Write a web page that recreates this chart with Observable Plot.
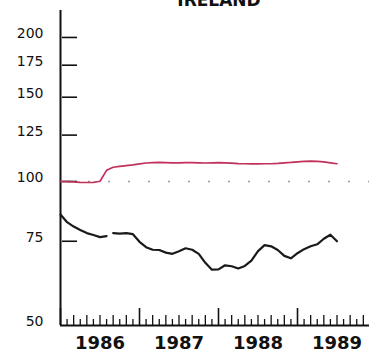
<!DOCTYPE html>
<html>
<head>
<meta charset="utf-8">
<script src="https://cdn.jsdelivr.net/npm/d3@7"></script>
<script src="https://cdn.jsdelivr.net/npm/@observablehq/plot@0.6"></script>
<style>
  html, body { margin: 0; padding: 0; background: #fff; }
</style>
</head>
<body>
<div id="chart"></div>
<script>
const title = "IRELAND";
const startYear = 1986;
const yearLabels = [1986, 1987, 1988, 1989];
const yTickValues = [75, 100, 125, 150, 175, 200];
const yLabelValues = [50, 75, 100, 125, 150, 175, 200];
const baseline = 100;

// monthly values, Jan 1986 – Jul 1989
const upperSeries = [100.0, 99.9, 99.8, 99.6, 99.5, 99.6, 100.1, 105.5, 107.1, 107.5,
  107.9, 108.3, 108.8, 109.3, 109.5, 109.6, 109.5, 109.4, 109.4, 109.5,
  109.5, 109.4, 109.3, 109.4, 109.5, 109.4, 109.2, 109.0, 108.9, 108.8,
  108.8, 108.9, 108.9, 109.1, 109.4, 109.6, 109.9, 110.2, 110.3, 110.2,
  109.9, 109.4, 108.9];
const lowerSeries = [85.3, 82.2, 80.5, 79.2, 78.0, 77.3, 76.5, 76.9, 78.0, 77.8,
  78.0, 77.6, 74.8, 72.9, 72.0, 71.9, 71.0, 70.6, 71.5, 72.5,
  72.0, 70.6, 67.6, 65.4, 65.5, 66.8, 66.5, 65.8, 66.6, 68.3,
  71.5, 73.6, 73.2, 71.9, 69.9, 69.1, 70.8, 72.2, 73.2, 73.9,
  75.9, 77.4, 75.0];
// the lower line is broken before this month index
const lowerBreakAt = 8;

const toX = i => startYear + i / 12;
const upper = upperSeries.map((v, i) => ({x: toX(i), v}));
const lower = lowerSeries.map((v, i) => ({x: toX(i), v, seg: i < lowerBreakAt ? 0 : 1}));
const monthTicks = d3.range(0, 47).map(i => ({x: toX(i), k: i % 12 === 0 ? 2 : (i % 2 === 0 ? 1 : 0)}));

const W = 369, H = 360, ML = 60, MR = 0, MT = 10, MB = 35;
const frameW = W - ML - MR;

const chart = Plot.plot({
  width: W,
  height: H,
  marginLeft: ML,
  marginRight: MR,
  marginTop: MT,
  marginBottom: MB,
  style: {fontFamily: "'DejaVu Sans', sans-serif", background: "#fff", color: "#111"},
  x: {domain: [startYear, startYear + frameW / 79], axis: null},
  y: {type: "log", domain: [50, 227.7], axis: null},
  marks: [
    // dotted reference line at 100
    Plot.ruleY([baseline], {stroke: "#999", strokeWidth: 1.6, strokeDasharray: "2,18", strokeDashoffset: 12}),
    // y tick marks (inside the axis)
    Plot.tickY(yTickValues, {y: d => d, stroke: "#111", strokeWidth: 1.6, insetLeft: 2, insetRight: frameW - 17}),
    // y labels
    Plot.text(yLabelValues, {y: d => d, text: d => String(d), frameAnchor: "left", textAnchor: "end", dx: -17, dy: -4, fontSize: 14, fill: "#111"}),
    // month ticks on x axis
    Plot.tickX(monthTicks.filter(d => d.k === 0), {x: "x", stroke: "#111", strokeWidth: 1.3, insetTop: 315 - 6}),
    Plot.tickX(monthTicks.filter(d => d.k === 1), {x: "x", stroke: "#111", strokeWidth: 1.3, insetTop: 315 - 10}),
    Plot.tickX(monthTicks.filter(d => d.k === 2), {x: "x", stroke: "#111", strokeWidth: 1.6, insetTop: 315 - 17}),
    // year labels
    Plot.text(yearLabels, {x: d => d + 0.5, text: d => String(d), frameAnchor: "bottom", dy: 23, fontSize: 18, fontWeight: "bold", fill: "#111"}),
    // axis lines
    Plot.ruleX([startYear], {stroke: "#111", strokeWidth: 2}),
    Plot.ruleY([50], {stroke: "#111", strokeWidth: 2}),
    // series
    Plot.line(upper, {x: "x", y: "v", stroke: "#c2305c", strokeWidth: 1.7}),
    Plot.line(lower, {x: "x", y: "v", z: "seg", stroke: "#1a1a1a", strokeWidth: 2.2}),
    // title (cut off at top, as in the source)
    Plot.text([title], {text: d => d, frameAnchor: "top", lineAnchor: "bottom", dx: 4, dy: -5, fontSize: 17, fontWeight: "bold", fill: "#111"})
  ]
});
document.getElementById("chart").appendChild(chart);
</script>
</body>
</html>
